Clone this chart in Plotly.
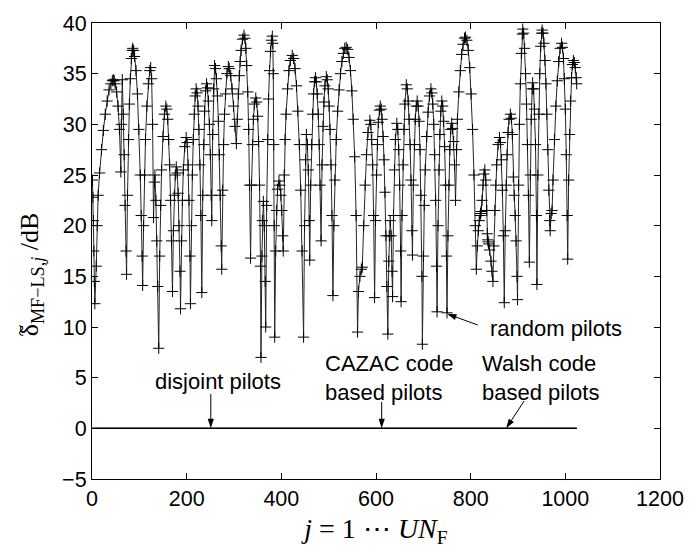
import plotly.graph_objects as go

# --- data: (j, delta in dB) samples of the random-pilot curve ---
seg1 = [(1, 24.5), (2, 22.8), (3, 20.5), (4, 17.5), (5, 14.5), (6, 12.3),
        (9, 16), (11, 20), (13, 23), (16, 25.2), (20, 27.5), (24, 29.4), (28, 31), (32, 32.3),
        (36, 33.4), (40, 34.0), (43, 34.3), (45, 34.4),
        (47, 34.3), (49, 34.0), (52, 33.2), (55, 31.8), (58, 29.5), (61, 25.3),
        (62, 30), (64, 34.4), (66, 31), (68, 27), (70, 22), (72, 17.5), (73, 15.2),
        (75, 23), (77, 28.5), (79, 32), (81, 34.5), (83, 36.5), (85, 37.3), (86, 37.5),
        (88, 37.3), (90, 36.7), (93, 35.3), (96, 33), (99, 29.5), (102, 25), (104, 21), (106, 17),
        (107, 14.1),
        (109, 20), (111, 25), (113, 28.5), (116, 31.8), (119, 34), (122, 35.3), (124, 35.6),
        (126, 34.5), (128, 30), (130, 20.8),
        (132, 24.3), (133, 25), (135, 22.5), (137, 18.5), (139, 14), (141, 7.9),
        (143, 17), (145, 22), (147, 25.5), (150, 28.8), (153, 31), (156, 31.8),
        (158, 31.5), (160, 30.5), (162, 28.5), (164, 26), (166, 22.5), (168, 18.5), (170, 13.5),
        (172, 19.5), (174, 23), (176, 25), (178, 25.8),
        (180, 25.2), (182, 23.2), (184, 20), (186, 15.5), (187, 11.8),
        (189, 18.5), (191, 22.5), (193, 25.5), (196, 27.8), (199, 28.7),
        (201, 28.2), (203, 26), (205, 22.5), (207, 17), (208, 12.3),
        (210, 20), (212, 25), (214, 28.5), (216, 31), (218, 32.8), (220, 33.5),
        (222, 33.1), (224, 31.8), (226, 29.5), (228, 26), (230, 21), (232, 13.4),
        (234, 23), (236, 28), (238, 31.3), (240, 33.3), (242, 34),
        (244, 33.6), (246, 32.3), (248, 30), (250, 27), (252, 23), (253, 20.5)]

seg2 = [(255, 29), (257, 33.5), (259, 35.8),
        (261, 35.5), (263, 34.5), (265, 32.8), (267, 30.3), (269, 27), (271, 23), (273, 18),
        (274, 15.7),
        (276, 23.5), (278, 28), (280, 31), (282, 33), (285, 35), (288, 35.7),
        (290, 35.5), (293, 34.8), (296, 33.5), (299, 31.8), (302, 29.8), (305, 28.1),
        (307, 30.5), (309, 33), (311, 34.8), (313, 36.2), (315, 37.3), (318, 38.4), (321, 38.8),
        (323, 38.5), (325, 37.5), (327, 35.8), (329, 33.2), (331, 29.5), (333, 24), (335, 16.8),
        (337, 24), (339, 28), (341, 30.5), (343, 32), (346, 32.6),
        (348, 32.2), (350, 30.8), (352, 28.3), (354, 24), (356, 16), (357, 7.0),
        (359, 17), (360, 20.5), (362, 22.4), (364, 20), (366, 14.5), (367, 10.0),
        (369, 22), (371, 28.5), (373, 32.5), (375, 35.3), (377, 37.2), (379, 38.3), (381, 38.7),
        (382, 38), (383, 35), (384, 28), (385, 20), (386, 9.0),
        (388, 17.5), (390, 21.5), (392, 23.6), (395, 24.4),
        (397, 24), (399, 23), (401, 21.5), (403, 19), (404, 17.5),
        (406, 25), (408, 28.5), (410, 31), (413, 33.5), (416, 35.3), (419, 36.3), (423, 36.8),
        (426, 36.5), (429, 35.5), (432, 33.8), (435, 31.3), (438, 28), (441, 23.5), (444, 17.5),
        (447, 9.0),
        (449, 20), (451, 26.5), (453, 29.0),
        (455, 28), (457, 25.5), (459, 20.5), (460, 16.6),
        (462, 24), (464, 28), (466, 31), (468, 33), (470, 34.2), (472, 34.6),
        (474, 34.2), (476, 33), (478, 31), (480, 28), (482, 24), (484, 18.5),
        (486, 26), (488, 29.8), (490, 32.2), (492, 33.8), (495, 34.7),
        (497, 34.4), (499, 33.5), (501, 31.8), (503, 29.5), (505, 26), (507, 21), (509, 13.1)]

seg3 = [(511, 20), (513, 24.5), (516, 28.5), (519, 31.3), (522, 33.4), (525, 35), (528, 36.2),
        (531, 37), (534, 37.5), (537, 37.6),
        (540, 37.4), (543, 36.6), (546, 35.3), (549, 33.3), (552, 30.5), (555, 26.8), (558, 21),
        (561, 9.5),
        (563, 13.5), (566, 15), (569, 15.7), (571, 15.9),
        (574, 20), (577, 24), (580, 27), (583, 29.2), (587, 30.4),
        (589, 30), (591, 28.5), (593, 26), (595, 21), (597, 12.9),
        (599, 20.5), (601, 25), (603, 28), (605, 30.2), (607, 31.4), (609, 31.8),
        (611, 31.5), (613, 30.5), (615, 28.8), (617, 26.5), (619, 23.3), (621, 19), (623, 14),
        (625, 9.3),
        (627, 16.5), (628, 19), (630, 20.5), (632, 19), (634, 15.5), (635, 13.0),
        (637, 21), (639, 25.5), (641, 28.5), (644, 30.1),
        (646, 29.5), (648, 27.5), (650, 24), (652, 17.5), (653, 12.5),
        (655, 21), (657, 26), (659, 29.5), (661, 32), (664, 33.9),
        (666, 33.5), (668, 32.3), (670, 30.5), (672, 28), (674, 24.5), (676, 19.5), (677, 17.1),
        (679, 24), (681, 28), (683, 30.5), (685, 31.8), (687, 32.3),
        (689, 31.8), (691, 30.3), (693, 27.5), (695, 23), (697, 15), (698, 8.3),
        (700, 17), (702, 22), (704, 25.5), (707, 28.8), (710, 31.2), (713, 32.8), (716, 33.5),
        (718, 33.1), (720, 32), (722, 30), (724, 27), (726, 22.5), (728, 16), (729, 11.5),
        (731, 20), (733, 25.5), (735, 29), (737, 31.3), (739, 32.3),
        (741, 31.8), (743, 30.3), (745, 27.8), (747, 24), (749, 17), (750, 11.4),
        (752, 19), (754, 24), (756, 27.5), (758, 29.5), (760, 30.1),
        (762, 29.6), (764, 28.3), (766, 26), (768, 22.5)]

seg4 = [(770, 27.5), (772, 30.5), (775, 33.2), (778, 35.3), (781, 36.9), (784, 37.9), (787, 38.5),
        (789, 38.6),
        (792, 38.3), (795, 37.3), (798, 35.6), (801, 33), (804, 29.5), (807, 25), (810, 20),
        (812, 15.7),
        (814, 18), (816, 19.5), (818, 20.5), (820, 21), (821, 21.2), (822, 21.4), (824, 22.5),
        (826, 24), (828, 25.1), (830, 25.5),
        (832, 24.5), (834, 21.5), (835, 19.2), (836, 18.6), (837, 18.4), (838, 18.2), (840, 17.6),
        (843, 16.5), (845, 15.5), (847, 14.5),
        (849, 18), (851, 21.5), (853, 24), (855, 26), (858, 28), (861, 28.7),
        (863, 28.2), (865, 26.5), (867, 23.5), (869, 19), (871, 12.4),
        (873, 19.5), (875, 24), (877, 27), (879, 29.2), (881, 30.5), (884, 31.0),
        (886, 30.6), (888, 29), (890, 24.8), (892, 23), (894, 21), (896, 18.5), (898, 15),
        (899, 12.7),
        (901, 24), (903, 30), (905, 34), (907, 37), (909, 38.9), (910, 39.4),
        (912, 39), (914, 37.5), (916, 35), (918, 32), (920, 28), (922, 23), (924, 16.4),
        (926, 25), (928, 30.5), (930, 33.5), (931, 34.1),
        (933, 33.5), (935, 31.5), (937, 28), (939, 21), (940, 14.2),
        (942, 25), (944, 31), (946, 35), (948, 37.7), (950, 39), (951, 39.3),
        (953, 39), (955, 38), (957, 36.3), (959, 34), (961, 31), (963, 27.5), (965, 23.5),
        (967, 20.5), (968, 19.5),
        (970, 21.2), (972, 21.5),
        (974, 24.5), (977, 28.5), (980, 31.8), (983, 34.3), (986, 36.2), (989, 37.5), (992, 38.0),
        (994, 37.6), (996, 36.5), (998, 34.5), (1000, 31.5), (1002, 27), (1004, 21), (1005, 16.7),
        (1007, 24.5), (1009, 29), (1011, 32.3), (1013, 34.6), (1015, 35.9), (1017, 36.3),
        (1019, 36.1), (1021, 35.6), (1023, 34.6), (1024, 34.0)]

# the three orthogonal pilot designs give exactly 0 dB for all j
j_flat = [1, 1024]
disjoint_db = [0, 0]
cazac_db = [0, 0]
walsh_db = [0, 0]

x_ticks = [0, 200, 400, 600, 800, 1000, 1200]
y_ticks = [-5, 0, 5, 10, 15, 20, 25, 30, 35, 40]

# labels: (text, j, dB) and arrows: (tail j, tail dB, head j, head dB)
labels = [("disjoint pilots", 266, 4.65),
          ("CAZAC code<br>based pilots", 628, 5.0),
          ("Walsh code<br>based pilots", 947, 5.0),
          ("random pilots", 980, 9.9)]
arrows = [(251, 3.4, 251, 0.0),
          (612, 2.6, 612, 0.0),
          (913, 2.7, 875, 0.0),
          (815, 10.2, 750, 11.3)]

points = seg1 + seg2 + seg3 + seg4
j_pts = [p[0] for p in points]
delta_db = [p[1] for p in points]

fig = go.Figure()

for series in (disjoint_db, cazac_db, walsh_db):
    fig.add_trace(go.Scatter(x=j_flat, y=series, mode="lines",
                             line=dict(color="black", width=1.4), showlegend=False,
                             hoverinfo="skip"))

fig.add_trace(go.Scatter(
    x=j_pts, y=delta_db, mode="lines+markers",
    line=dict(color="#262626", width=1),
    marker=dict(symbol="cross-thin", size=8, line=dict(color="black", width=1)),
    showlegend=False))

for tx, ty, hx, hy in arrows:
    fig.add_trace(go.Scatter(
        x=[tx, hx], y=[ty, hy], mode="lines+markers",
        line=dict(color="black", width=1),
        marker=dict(symbol="arrow", size=10, opacity=[0, 1], angleref="previous",
                    color="black", line=dict(width=0)),
        showlegend=False, hoverinfo="skip"))

txt_font = dict(family="Liberation Sans, Arial, sans-serif", size=22, color="black")
for text, lx, ly in labels:
    fig.add_annotation(x=lx, y=ly, text=text, showarrow=False, font=txt_font, align="left")

serif = "Liberation Serif, Times New Roman, serif"
# y-axis title (rotated) with the tilde drawn above the delta
fig.add_annotation(xref="paper", yref="paper", x=-0.1078, y=0.308,
                   xanchor="center", yanchor="bottom", textangle=-90, showarrow=False,
                   text="δ<sub>MF−LS,<i>j</i></sub> /dB",
                   font=dict(family=serif, size=26, color="black"))
fig.add_annotation(xref="paper", yref="paper", x=-0.1252, y=0.3254,
                   xanchor="center", yanchor="middle", textangle=-90, showarrow=False,
                   text="~", font=dict(family=serif, size=22, color="black"))

axis_common = dict(showgrid=False, zeroline=False, showline=True, linecolor="black",
                   linewidth=1.2, mirror="ticks", ticks="inside", ticklen=6, tickwidth=1,
                   tickcolor="black",
                   tickfont=dict(family="Liberation Sans, Arial, sans-serif", size=21.5,
                                 color="black"))

fig.update_xaxes(range=[0, 1200], tickvals=x_ticks, **axis_common,
                 title=dict(text="<i>j</i> = 1 ⋯ <i>UN</i><sub>F</sub>",
                            font=dict(family=serif, size=28, color="black"), standoff=8))
fig.update_yaxes(range=[-5, 40], tickvals=y_ticks, **axis_common)

fig.update_layout(width=696, height=556, margin=dict(l=92, r=29, t=18, b=77),
                  plot_bgcolor="white", paper_bgcolor="white")

fig.write_html("out.html")
